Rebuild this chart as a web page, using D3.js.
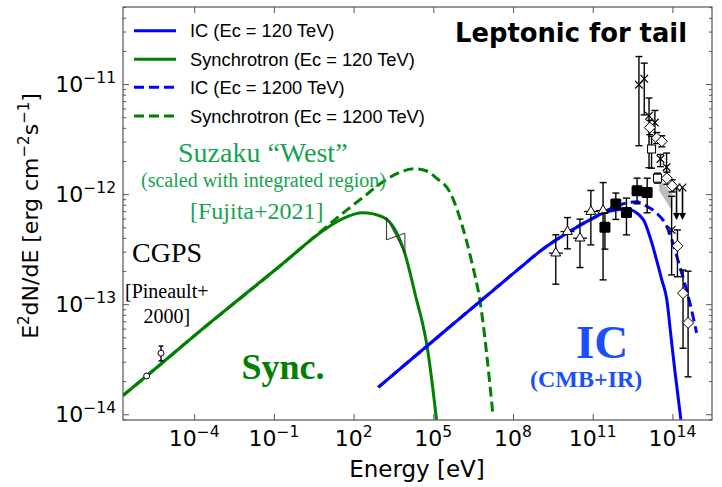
<!DOCTYPE html>
<html>
<head>
<meta charset="utf-8">
<script src="https://cdn.jsdelivr.net/npm/d3@7"></script>
<style>
  html, body { margin: 0; padding: 0; background: #fff; }
  svg { display: block; }
</style>
</head>
<body>
<svg id="chart" width="722" height="487"></svg>
<script>
// ---- Model curves: log10(E / eV) and log10(E^2 dN/dE / erg cm^-2 s^-1) ----
const syncLogE = [-6.68, -5.78, -3.91, -0.66, 0.86, 1.61, 2.35, 3.11, 3.93, 4.37, 4.62, 4.75, 5.12];
const syncLogF = [-13.83, -13.65, -13.27, -12.63, -12.33, -12.22, -12.17, -12.21, -12.54, -12.96, -13.20, -13.36, -14.05];

const syncHiLogE = [-6.68, -5.78, -3.91, -0.66, 0.86, 1.61, 2.35, 3.12, 3.75, 4.31, 4.75, 5.12, 5.62, 6.08, 6.45, 6.75, 7.25];
const syncHiLogF = [-13.83, -13.65, -13.27, -12.63, -12.32, -12.17, -12.03, -11.885, -11.80, -11.77, -11.79, -11.855, -11.98, -12.28, -12.62, -12.96, -14.02];

const icLogE = [2.93, 5.5, 8.26, 9.01, 10.26, 11.0, 11.52, 12.28, 12.9, 13.15, 13.60, 13.79, 13.94, 14.09, 14.32];
const icLogF = [-13.755, -13.23, -12.67, -12.52, -12.32, -12.22, -12.16, -12.136, -12.23, -12.385, -12.78, -12.96, -13.28, -13.60, -14.05];

const icHiLogE = [2.93, 5.5, 8.26, 9.01, 10.26, 11.0, 11.52, 12.0, 12.27, 12.65, 13.03, 13.4, 13.78, 14.28, 14.66, 14.91];
const icHiLogF = [-13.755, -13.23, -12.67, -12.52, -12.32, -12.22, -12.15, -12.10, -12.08, -12.07, -12.11, -12.17, -12.29, -12.66, -12.99, -13.26];

// ---- Measurements ----
// CGPS radio
const cgpsE = [-5.79, -5.25];
const cgpsF = [-13.652, -13.445];
const cgpsHi = [-13.652, -13.38];
const cgpsLo = [-13.652, -13.515];

// Suzaku "West" bow tie: left and right edges (upper, lower)
const bowE = [3.24, 3.93];
const bowLeft = [-12.21, -12.415];
const bowRight = [-12.355, -12.536];

// open triangles
const triE = [9.61, 10.05, 10.52, 10.93, 11.39];
const triF = [-12.536, -12.34, -12.40, -12.158, -12.149];
const triHi = [-12.37, -12.213, -12.227, -11.967, -11.895];
const triLo = [-12.818, -12.497, -12.667, -12.461, -12.779];

// filled squares
const sqE = [11.46, 11.87, 12.27, 12.67, 13.05];
const sqF = [-12.30, -12.09, -12.167, -11.97, -11.985];
const sqHi = [-12.17, -11.99, -12.036, -11.855, -11.855];
const sqLo = [-12.50, -12.23, -12.37, -12.088, -12.17];

// crosses
const crE = [12.74, 12.94, 13.12, 13.34, 13.55, 13.78, 13.97];
const crF = [-11.006, -10.952, -11.288, -11.35, -11.68, -11.755, -12.325];
const crHi = [-10.75, -10.81, -11.127, -11.24, -11.64, -11.627, -12.02];
const crLo = [-11.56, -11.28, -11.76, -11.49, -11.75, -11.87, -12.734];

// upper limits
const ulE = [14.155, 14.38];
const ulF = [-11.94, -11.94];
const ulTo = [-12.234, -12.234];

// open diamonds
const dmE = [13.15, 13.41, 13.60, 13.79, 13.99, 14.19, 14.40, 14.59];
const dmF = [-11.395, -11.49, -11.52, -11.855, -11.925, -12.47, -12.90, -13.17];
const dmHi = [-11.33, -11.44, -11.47, -11.80, -11.87, -12.325, -12.69, -12.70];
const dmLo = [-11.46, -11.54, -11.57, -11.91, -11.98, -12.75, -13.40, -13.66];

// open squares
const oqE = [13.215, 13.44];
const oqF = [-11.59, -11.855];
const oqHi = [-11.476, -11.81];
const oqLo = [-11.764, -11.90];

// shaded band
const bandE = [13.5, 13.75, 14.0];
const bandHi = [-11.88, -11.93, -12.0];
const bandLo = [-11.97, -12.06, -12.16];

// axis ticks
const xTickExp = [-4, -1, 2, 5, 8, 11, 14];
const yTickExp = [-14, -13, -12, -11];

const legendLabels = ["IC (Ec = 120 TeV)", "Synchrotron (Ec = 120 TeV)", "IC (Ec = 1200 TeV)", "Synchrotron (Ec = 1200 TeV)"];

// ---- Layout ----
const pL = 123, pR = 712, pT = 7, pB = 420;
const BLUE = "#0000ff", GREEN = "#008000";

const svg = d3.select("#chart");
const x = d3.scaleLog().domain([10 ** -6.68, 10 ** 15.49]).range([pL, pR]);
const y = d3.scaleLog().domain([10 ** -14.052, 10 ** -10.30]).range([pB, pT]);
const X = v => x(10 ** v), Y = v => y(10 ** v);

svg.append("defs").append("clipPath").attr("id", "plot")
  .append("rect").attr("x", pL).attr("y", pT).attr("width", pR - pL).attr("height", pB - pT);

const zip = (a, b) => a.map((v, i) => [v, b[i]]);
const line = d3.line().x(d => X(d[0])).y(d => Y(d[1])).curve(d3.curveMonotoneX);

const curves = svg.append("g").attr("clip-path", "url(#plot)");
const curveDefs = [
  { e: syncHiLogE, f: syncHiLogF, c: GREEN, dash: "10,5" },
  { e: icHiLogE, f: icHiLogF, c: BLUE, dash: "10,5" },
  { e: syncLogE, f: syncLogF, c: GREEN, dash: null },
  { e: icLogE, f: icLogF, c: BLUE, dash: null },
];
curveDefs.forEach(cd => {
  curves.append("path").attr("d", line(zip(cd.e, cd.f)))
    .attr("fill", "none").attr("stroke", cd.c).attr("stroke-width", 3)
    .attr("stroke-dasharray", cd.dash);
});

// ---- Data ----
const dat = svg.append("g").attr("clip-path", "url(#plot)");
function errBars(E, Hi, Lo, cap = 3.5) {
  E.forEach((e, i) => {
    const px = X(e), y1 = Y(Hi[i]), y2 = Y(Lo[i]);
    if (Math.abs(y1 - y2) < 0.5) return;
    dat.append("line").attr("x1", px).attr("x2", px).attr("y1", y1).attr("y2", y2)
      .attr("stroke", "#000").attr("stroke-width", 1.4);
    [y1, y2].forEach(yy => dat.append("line").attr("x1", px - cap).attr("x2", px + cap)
      .attr("y1", yy).attr("y2", yy).attr("stroke", "#000").attr("stroke-width", 1.4));
  });
}

// shaded band
const bandPts = zip(bandE, bandHi).concat(zip(bandE, bandLo).reverse());
dat.append("path").attr("d", d3.line().x(d => X(d[0])).y(d => Y(d[1]))(bandPts) + "Z")
  .attr("fill", "#b0b0b0").attr("opacity", 0.85);

// bow tie
const bowPts = [[bowE[0], bowLeft[0]], [bowE[1], bowRight[1]], [bowE[1], bowRight[0]], [bowE[0], bowLeft[1]]];
dat.append("path").attr("d", d3.line().x(d => X(d[0])).y(d => Y(d[1]))(bowPts) + "Z")
  .attr("fill", "none").attr("stroke", "#333").attr("stroke-width", 1);

// CGPS
errBars(cgpsE, cgpsHi, cgpsLo, 2.5);
cgpsE.forEach((e, i) => dat.append("circle").attr("cx", X(e)).attr("cy", Y(cgpsF[i])).attr("r", 3)
  .attr("fill", "#fff").attr("stroke", "#000").attr("stroke-width", 1));

// triangles
errBars(triE, triHi, triLo);
triE.forEach((e, i) => {
  const px = X(e), py = Y(triF[i]);
  dat.append("line").attr("x1", px - 7).attr("x2", px + 7).attr("y1", py).attr("y2", py)
    .attr("stroke", "#000").attr("stroke-width", 1.3);
  dat.append("path").attr("d", d3.symbol(d3.symbolTriangle, 42)())
    .attr("transform", `translate(${px},${py})`)
    .attr("fill", "#fff").attr("stroke", "#000").attr("stroke-width", 1);
});

// crosses
errBars(crE, crHi, crLo);
crE.forEach((e, i) => dat.append("path").attr("d", d3.symbol(d3.symbolTimes, 40)())
  .attr("transform", `translate(${X(e)},${Y(crF[i])})`).attr("fill", "none")
  .attr("stroke", "#000").attr("stroke-width", 1.2));

// upper limits
ulE.forEach((e, i) => {
  const px = X(e), y1 = Y(ulF[i]), y2 = Y(ulTo[i]);
  dat.append("line").attr("x1", px).attr("x2", px).attr("y1", y1).attr("y2", y2 - 2)
    .attr("stroke", "#000").attr("stroke-width", 1.6);
  dat.append("path").attr("d", `M${px - 3.5},${y2 - 7}L${px + 3.5},${y2 - 7}L${px},${y2}Z`).attr("fill", "#000");
  dat.append("path").attr("d", d3.symbol(d3.symbolTimes, 40)())
    .attr("transform", `translate(${px},${y1})`).attr("fill", "none")
    .attr("stroke", "#000").attr("stroke-width", 1.2);
});

// open squares
errBars(oqE, oqHi, oqLo);
oqE.forEach((e, i) => dat.append("rect").attr("x", X(e) - 4).attr("y", Y(oqF[i]) - 4)
  .attr("width", 8).attr("height", 8).attr("fill", "#fff").attr("stroke", "#000").attr("stroke-width", 1));

// diamonds
errBars(dmE, dmHi, dmLo);
dmE.forEach((e, i) => {
  const px = X(e), py = Y(dmF[i]), r = 5.5;
  dat.append("path").attr("d", `M${px},${py - r}L${px + r},${py}L${px},${py + r}L${px - r},${py}Z`)
    .attr("fill", "#fff").attr("stroke", "#000").attr("stroke-width", 1);
});

// filled squares
errBars(sqE, sqHi, sqLo);
sqE.forEach((e, i) => dat.append("rect").attr("x", X(e) - 5.5).attr("y", Y(sqF[i]) - 5.5)
  .attr("width", 11).attr("height", 11).attr("rx", 1.5).attr("fill", "#000"));

// ---- Axes ----
const axisColor = "#555";
svg.append("rect").attr("x", pL).attr("y", pT).attr("width", pR - pL).attr("height", pB - pT)
  .attr("fill", "none").attr("stroke", axisColor).attr("stroke-width", 1.2);

const xTicks = xTickExp.map(k => 10 ** k);
const yMajor = yTickExp.map(k => 10 ** k);
const yMinor = [];
[-15, -14, -13, -12, -11].forEach(k => { for (let m = 2; m <= 9; m++) yMinor.push(m * 10 ** k); });
const yMinorIn = yMinor.filter(v => v > y.domain()[0] && v < y.domain()[1]);

function styleAxis(g) {
  g.select(".domain").remove();
  g.selectAll(".tick line").attr("stroke", axisColor).attr("stroke-width", 1);
  g.selectAll(".tick text").remove();
}
svg.append("g").attr("transform", `translate(0,${pB})`)
  .call(d3.axisBottom(x).tickValues(xTicks).tickSize(-6)).call(styleAxis);
svg.append("g").attr("transform", `translate(0,${pT})`)
  .call(d3.axisTop(x).tickValues(xTicks).tickSize(-6)).call(styleAxis);
svg.append("g").attr("transform", `translate(${pL},0)`)
  .call(d3.axisLeft(y).tickValues(yMajor).tickSize(-6)).call(styleAxis);
svg.append("g").attr("transform", `translate(${pL},0)`)
  .call(d3.axisLeft(y).tickValues(yMinorIn).tickSize(-3)).call(styleAxis);
svg.append("g").attr("transform", `translate(${pR},0)`)
  .call(d3.axisRight(y).tickValues(yMajor).tickSize(-6)).call(styleAxis);
svg.append("g").attr("transform", `translate(${pR},0)`)
  .call(d3.axisRight(y).tickValues(yMinorIn).tickSize(-3)).call(styleAxis);

const sans = "DejaVu Sans, sans-serif";
function powText(t, k) {
  t.append("tspan").text("10");
  t.append("tspan").attr("dy", -9).attr("font-size", 15.5).text((k < 0 ? "\u2212" : "") + Math.abs(k));
}
xTickExp.forEach(k => {
  const t = svg.append("text").attr("x", x(10 ** k)).attr("y", 446).attr("text-anchor", "middle")
    .attr("font-family", sans).attr("font-size", 22).attr("fill", "#000");
  powText(t, k);
});
yTickExp.forEach(k => {
  const t = svg.append("text").attr("x", 116).attr("y", y(10 ** k) + 8).attr("text-anchor", "end")
    .attr("font-family", sans).attr("font-size", 22).attr("fill", "#000");
  powText(t, k);
});

svg.append("text").attr("x", 417).attr("y", 477).attr("text-anchor", "middle")
  .attr("font-family", sans).attr("font-size", 23).text("Energy [eV]");

const yl = svg.append("text").attr("transform", "translate(38,216) rotate(-90)").attr("text-anchor", "middle")
  .attr("font-family", sans).attr("font-size", 22);
yl.append("tspan").text("E");
yl.append("tspan").attr("dy", -9).attr("font-size", 15).text("2");
yl.append("tspan").attr("dy", 9).text("dN/dE [erg cm");
yl.append("tspan").attr("dy", -9).attr("font-size", 15).text("\u22122");
yl.append("tspan").attr("dy", 9).text("s");
yl.append("tspan").attr("dy", -9).attr("font-size", 15).text("\u22121");
yl.append("tspan").attr("dy", 9).text("]");

// ---- Legend ----
const legendRows = [30.7, 59.3, 87.3, 116];
const legendStyle = [[BLUE, null], [GREEN, null], [BLUE, "10,5"], [GREEN, "10,5"]];
legendLabels.forEach((lab, i) => {
  svg.append("line").attr("x1", 134).attr("x2", 176).attr("y1", legendRows[i]).attr("y2", legendRows[i])
    .attr("stroke", legendStyle[i][0]).attr("stroke-width", 3).attr("stroke-dasharray", legendStyle[i][1]);
  svg.append("text").attr("x", 190).attr("y", legendRows[i] + 6.5)
    .attr("font-family", "Liberation Sans, Arial, sans-serif").attr("font-size", 18.3).attr("fill", "#000").text(lab);
});

svg.append("text").attr("x", 455).attr("y", 42).attr("font-family", sans).attr("font-weight", "bold")
  .attr("font-size", 25.8).attr("fill", "#000").text("Leptonic for tail");

// ---- Annotations ----
const serif = "Liberation Serif, Times New Roman, serif";
const notes = [
  { t: "Suzaku \u201cWest\u201d", x: 178, y: 161.7, s: 28, c: "#16a34f", w: "normal" },
  { t: "(scaled with integrated region)", x: 141, y: 186.7, s: 20, c: "#16a34f", w: "normal" },
  { t: "[Fujita+2021]", x: 190, y: 219.3, s: 24, c: "#16a34f", w: "normal" },
  { t: "CGPS", x: 132, y: 261.7, s: 28, c: "#000", w: "normal" },
  { t: "[Pineault+", x: 125, y: 298, s: 20, c: "#000", w: "normal" },
  { t: "2000]", x: 143.5, y: 323.3, s: 20, c: "#000", w: "normal" },
  { t: "Sync.", x: 241.5, y: 379.3, s: 36, c: "#008000", w: "bold" },
  { t: "IC", x: 576, y: 358, s: 47, c: "#1a4fff", w: "bold" },
  { t: "(CMB+IR)", x: 530, y: 387, s: 24, c: "#1a4fff", w: "bold" },
];
notes.forEach(n => svg.append("text").attr("x", n.x).attr("y", n.y).attr("font-family", serif)
  .attr("font-size", n.s).attr("font-weight", n.w).attr("fill", n.c).text(n.t));
</script>
</body>
</html>
